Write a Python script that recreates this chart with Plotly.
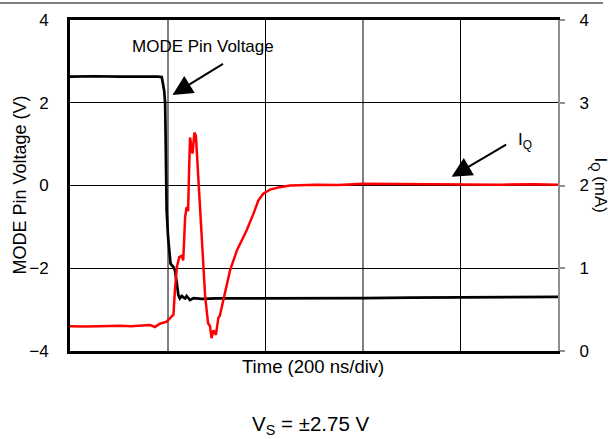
import plotly.graph_objects as go

# MODE pin voltage (V) vs time (ns)
mode_t = [0, 50, 100, 150, 180, 188, 193, 195, 197, 198, 201, 206, 212, 215, 219, 222, 225,
          229, 233, 236, 239, 246, 253, 270, 300, 389, 500, 602, 700, 803, 900, 1000]
mode_v = [2.63, 2.64, 2.63, 2.64, 2.63, 2.62, 2.29, 1.98, 0.12, -0.6, -1.25, -1.89, -1.97, -2.05,
          -2.37, -2.65, -2.73, -2.67, -2.71, -2.73, -2.67, -2.77, -2.72, -2.74, -2.73, -2.73,
          -2.72, -2.72, -2.71, -2.70, -2.70, -2.69]

# Quiescent current IQ (mA) vs time (ns)
iq_t = [0, 30, 61, 80, 102, 125, 143, 164, 174, 184, 198, 208, 212, 215, 219, 224, 229, 232,
        236, 239, 242, 244, 246, 251, 255, 258, 263, 266, 270, 277, 283, 287, 290, 294, 299,
        304, 307, 314, 328, 342, 362, 376, 386, 396, 410, 430, 451, 505, 550, 600, 676, 750,
        803, 881, 950, 1000]
iq_ma = [0.30, 0.295, 0.30, 0.305, 0.305, 0.30, 0.31, 0.315, 0.29, 0.33, 0.355, 0.415, 0.44,
         0.735, 1.015, 1.135, 1.15, 1.095, 1.62, 1.74, 1.69, 2.18, 2.58, 2.385, 2.64, 2.60, 2.10,
         1.80, 1.375, 0.655, 0.335, 0.30, 0.155, 0.25, 0.195, 0.40, 0.425, 0.615, 0.975, 1.215,
         1.46, 1.66, 1.82, 1.90, 1.95, 1.98, 2.00, 2.01, 2.005, 2.02, 2.015, 2.015, 2.015, 2.01,
         2.015, 2.01]

left_ticks = [-4, -2, 0, 2, 4]
right_ticks = [0, 1, 2, 3, 4]

FONT = "Arial, Liberation Sans, sans-serif"

fig = go.Figure()
fig.add_trace(go.Scatter(x=mode_t, y=mode_v, mode="lines",
                         line=dict(color="black", width=2.7), yaxis="y"))
fig.add_trace(go.Scatter(x=iq_t, y=iq_ma, mode="lines",
                         line=dict(color="#ff0000", width=2.5), yaxis="y2"))

fig.update_layout(
    width=608, height=439,
    margin=dict(l=70, r=50, t=20, b=88),
    paper_bgcolor="white", plot_bgcolor="white",
    showlegend=False,
    font=dict(family=FONT, size=17, color="black"),
    xaxis=dict(range=[0, 1000], tickmode="array", tickvals=[0, 400, 800],
               showticklabels=False, ticks="",
               showgrid=True, gridcolor="black", gridwidth=1,
               minor=dict(tickmode="array", tickvals=[200, 600], showgrid=True,
                          gridcolor="#808080", gridwidth=1.5, ticks=""),
               showline=True, linecolor="black", linewidth=3, mirror=True,
               zeroline=False),
    yaxis=dict(range=[-4, 4], tickmode="array", tickvals=left_ticks,
               showgrid=True, gridcolor="black", gridwidth=1,
               showline=True, linecolor="black", linewidth=3,
               ticks="", ticklabelstandoff=15, zeroline=False,
               tickfont=dict(size=17)),
    yaxis2=dict(range=[0, 4], tickmode="array", tickvals=right_ticks,
                overlaying="y", side="right", showgrid=False,
                showline=True, linecolor="#909090", linewidth=2,
                ticks="outside", ticklen=5, tickcolor="#909090", tickwidth=1.5,
                ticklabelstandoff=11, zeroline=False, tickfont=dict(size=17)),
)

annotations = [
    dict(text="MODE Pin Voltage (V)", textangle=-90, xref="paper", yref="paper",
         x=(19 - 70) / 488, y=0.5, xanchor="center", yanchor="middle",
         showarrow=False, font=dict(size=18)),
    dict(text="I<sub>Q</sub> (mA)", textangle=90, xref="paper", yref="paper",
         x=(599 - 70) / 488, y=0.5, xanchor="center", yanchor="middle",
         showarrow=False, font=dict(size=17)),
    dict(text="Time (200 ns/div)", xref="paper", yref="paper",
         x=(313 - 70) / 488, y=-(366 - 351) / 331, xanchor="center", yanchor="middle",
         showarrow=False, font=dict(size=18.5)),
    dict(text="V<sub>S</sub> = ±2.75 V", xref="paper", yref="paper",
         x=(310 - 70) / 488, y=-(425 - 351) / 331, xanchor="center", yanchor="middle",
         showarrow=False, font=dict(size=20.5)),
    dict(text="MODE Pin Voltage", xref="paper", yref="paper",
         x=(203 - 70) / 488, y=(351 - 46) / 331, xanchor="center", yanchor="middle",
         showarrow=False, font=dict(size=17)),
    dict(text="", x=210, y=2.19, xref="x", yref="y", showarrow=True,
         ax=52, ay=-32, arrowhead=2, arrowsize=2, arrowwidth=2, arrowcolor="black"),
    dict(text="I<sub>Q</sub>", xref="paper", yref="paper",
         x=(525 - 70) / 488, y=(351 - 141) / 331, xanchor="center", yanchor="middle",
         showarrow=False, font=dict(size=17)),
    dict(text="", x=782, y=2.106, xref="x", yref="y2", showarrow=True,
         ax=56, ay=-33, arrowhead=2, arrowsize=2, arrowwidth=2, arrowcolor="black"),
]
fig.update_layout(annotations=annotations)

fig.add_shape(type="line", xref="paper", yref="paper",
              x0=-70 / 488, x1=(603 - 70) / 488,
              y0=1 + (20 - 3) / 331, y1=1 + (20 - 3) / 331,
              line=dict(color="black", width=1.2))

fig.write_html("out.html", config={"displayModeBar": False},
               post_script="document.body.style.margin='0';")
